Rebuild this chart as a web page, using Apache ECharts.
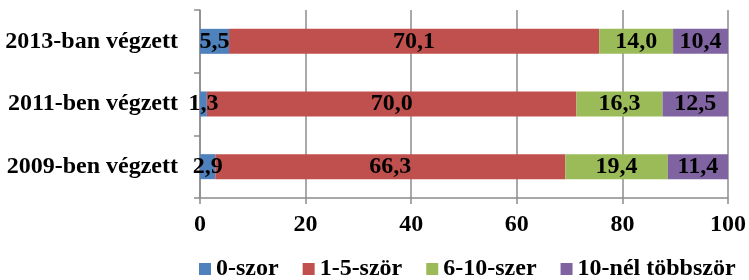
<!DOCTYPE html>
<html>
<head>
<meta charset="utf-8">
<script src="https://cdn.jsdelivr.net/npm/echarts@6/dist/echarts.min.js"></script>
<style>
  html, body { margin: 0; padding: 0; background: #fff; }
  #chart { width: 749px; height: 280px; }
</style>
</head>
<body>
<div id="chart"></div>
<script>
// categories listed bottom to top
var categories = ['2009-ben végzett', '2011-ben végzett', '2013-ban végzett'];
var seriesNames = ['0-szor', '1-5-ször', '6-10-szer', '10-nél többször'];
var nulla = [2.9, 1.3, 5.5];
var egyOt = [66.3, 70.0, 70.1];
var hatTiz = [19.4, 16.3, 14.0];
var tobb = [11.4, 12.5, 10.4];
var xTicks = [0, 20, 40, 60, 80, 100];

var colors = ['#4F81BD', '#C0504D', '#9BBB59', '#8064A2'];
var font = '"Liberation Serif", "Times New Roman", serif';
var fs = 24;

var chart = echarts.init(document.getElementById('chart'));

function makeSeries(name, data) {
    return {
        name: name,
        type: 'bar',
        stack: 'total',
        barWidth: 25,
        data: data,
        label: {
            show: true,
            position: 'inside',
            color: '#000',
            fontFamily: font,
            fontWeight: 'bold',
            fontSize: fs,
            formatter: function (p) {
                return p.value.toFixed(1).replace('.', ',');
            }
        }
    };
}

var option = {
    animation: false,
    color: colors,
    grid: {
        left: 200,
        right: 20,
        top: 10,
        bottom: 82
    },
    legend: {
        left: 199,
        top: 257,
        padding: 0,
        itemWidth: 12,
        itemHeight: 12,
        itemGap: 24,
        icon: 'rect',
        textStyle: {
            color: '#000',
            fontFamily: font,
            fontWeight: 'bold',
            fontSize: fs
        },
        data: seriesNames
    },
    xAxis: {
        type: 'value',
        min: xTicks[0],
        max: xTicks[xTicks.length - 1],
        interval: 20,
        axisLine: { show: true, lineStyle: { color: '#8c8c8c', width: 1.5 } },
        axisTick: { show: true, length: 6, lineStyle: { color: '#8c8c8c', width: 1.5 } },
        splitLine: { show: true, lineStyle: { color: '#8c8c8c', width: 1.5 } },
        axisLabel: {
            margin: 15,
            color: '#000',
            fontFamily: font,
            fontWeight: 'bold',
            fontSize: fs
        }
    },
    yAxis: {
        type: 'category',
        data: categories,
        axisLine: { show: true, lineStyle: { color: '#8c8c8c', width: 1.5 } },
        axisTick: { show: true, length: 6, lineStyle: { color: '#8c8c8c', width: 1.5 } },
        axisLabel: {
            margin: 22,
            color: '#000',
            fontFamily: font,
            fontWeight: 'bold',
            fontSize: fs
        }
    },
    series: [
        makeSeries(seriesNames[0], nulla),
        makeSeries(seriesNames[1], egyOt),
        makeSeries(seriesNames[2], hatTiz),
        makeSeries(seriesNames[3], tobb)
    ]
};

chart.setOption(option);
</script>
</body>
</html>
